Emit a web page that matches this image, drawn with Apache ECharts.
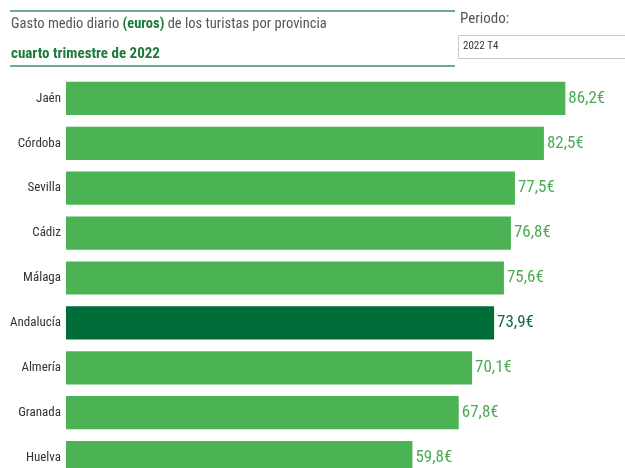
<!DOCTYPE html>
<html><head><meta charset="utf-8">
<script src="https://cdn.jsdelivr.net/npm/echarts@6/dist/echarts.min.js"></script>
<style>html,body{margin:0;padding:0;background:#fff}#c{width:625px;height:468px}</style>
</head><body><div id="c"></div>
<script>
const categories = ['Jaén','Córdoba','Sevilla','Cádiz','Málaga','Andalucía','Almería','Granada','Huelva'];
const values = [86.2, 82.5, 77.5, 76.8, 75.6, 73.9, 70.1, 67.8, 59.8];
const highlight = 'Andalucía';
const FONT = '"Roboto Condensed","DejaVu Sans Condensed",sans-serif';
const chart = echarts.init(document.getElementById('c'), null, {renderer:'canvas'});
chart.setOption({
  animation:false,
  title:{
    text:'{g|Gasto medio diario }{b|(euros)}{g| de los turistas por provincia}\n{s|cuarto trimestre de 2022}',
    left:11, top:9, padding:0,
    textStyle:{
      fontFamily:FONT,
      rich:{
        g:{fontFamily:FONT,fontSize:14.5,fontWeight:'normal',color:'#555',lineHeight:30},
        b:{fontFamily:FONT,fontSize:14.5,color:'#1d7a3a',fontWeight:'bold',lineHeight:30},
        s:{fontFamily:FONT,fontSize:15,color:'#1d7a3a',fontWeight:'bold',lineHeight:30}
      }
    }
  },
  graphic:[
    {type:'line',shape:{x1:10,y1:11,x2:455,y2:11},style:{stroke:'#3c8f63',lineWidth:1.5}},
    {type:'line',shape:{x1:10,y1:66,x2:455,y2:66},style:{stroke:'#3c8f63',lineWidth:1.5}},
    {type:'text',left:460,top:12,style:{text:'Periodo:',fill:'#555',font:'15px '+FONT}},
    {type:'rect',shape:{x:458.5,y:35.5,width:180,height:23},style:{fill:'#fff',stroke:'#c8c8c8',lineWidth:1}},
    {type:'text',left:463,top:41,style:{text:'2022 T4',fill:'#333',font:'11px '+FONT}}
  ],
  grid:{left:66, top:76, right:0, height:404, containLabel:false, outerBoundsMode:'none'},
  xAxis:{type:'value',min:0,max:96.5,show:false},
  yAxis:{type:'category',data:categories,inverse:true,
    axisLine:{show:false},axisTick:{show:false},
    axisLabel:{fontFamily:FONT,fontSize:13,color:'#333',margin:5}},
  series:[{
    type:'bar',
    barCategoryGap:'26%',
    data:values.map((v,i)=>({value:v,
      itemStyle:{color: categories[i]===highlight?'#006d38':'#4cb354'},
      label:{color: categories[i]===highlight?'#116b3a':'#4cab55'}})),
    label:{show:true,position:'right',distance:3,fontFamily:FONT,fontSize:17,
      formatter:p=>p.value.toFixed(1).replace('.',',')+'€'}
  }]
});
</script></body></html>
